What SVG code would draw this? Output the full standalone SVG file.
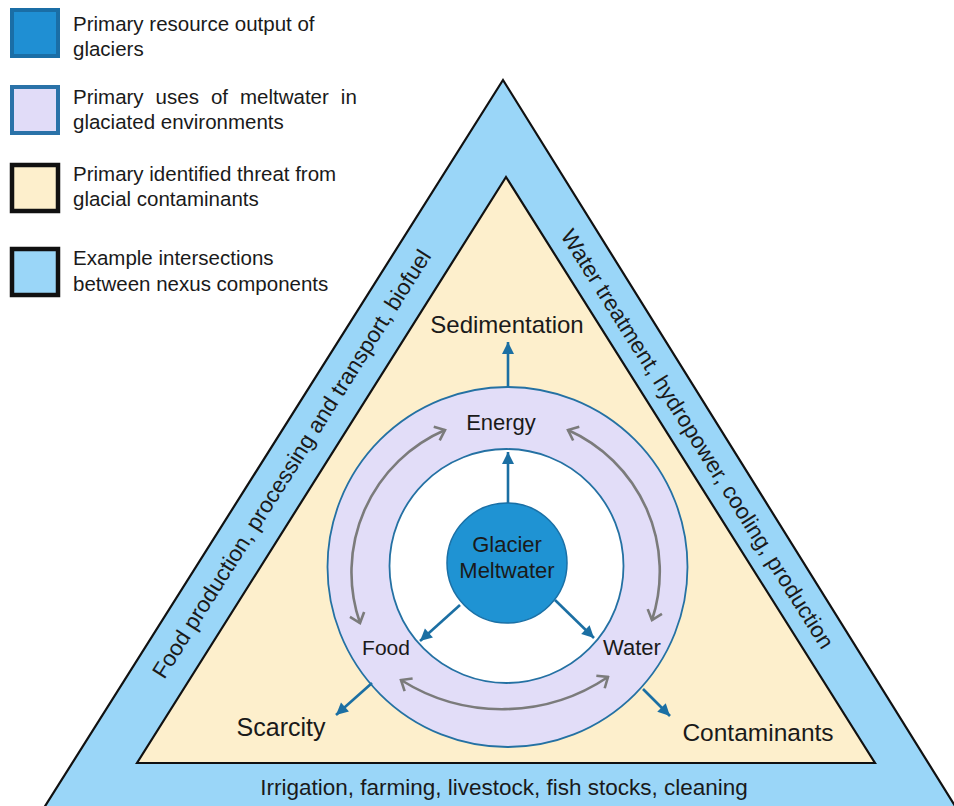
<svg xmlns="http://www.w3.org/2000/svg" width="954" height="806" viewBox="0 0 954 806">
<defs>
<style>
text{font-family:"Liberation Sans",Arial,sans-serif;fill:#1a1a1a}
.lg{font-size:20.5px}
.lb{font-size:22px;text-anchor:middle}
.band{font-size:22.5px;text-anchor:middle}
.blue{stroke:#1b6fa3;stroke-width:2.6;fill:none}
.gray{stroke:#7b7b7b;stroke-width:2.6;fill:none}
</style>
<marker id="bh" viewBox="-13 -7 14 14" refX="0" refY="0" markerWidth="14" markerHeight="14" markerUnits="userSpaceOnUse" orient="auto">
<path d="M-12,-6 L0,0 L-12,6 Z" fill="#1b6fa3"/>
</marker>
<marker id="gh" viewBox="-12 -9 14 18" refX="0" refY="0" markerWidth="14" markerHeight="18" markerUnits="userSpaceOnUse" orient="auto-start-reverse">
<path d="M-9,-7.5 L0,0 L-9,7.5" fill="none" stroke="#7b7b7b" stroke-width="2.6" stroke-linejoin="miter"/>
</marker>
</defs>
<rect width="954" height="806" fill="#ffffff"/>

<g id="legend">
<rect x="12" y="10" width="46" height="46" fill="#1f8fd3" stroke="#1a6ea6" stroke-width="4"/>
<text class="lg" x="73" y="31">Primary resource output of</text>
<text class="lg" x="73" y="56">glaciers</text>
<rect x="12" y="87" width="46" height="46" fill="#e1dcf8" stroke="#2a72a8" stroke-width="4"/>
<text class="lg" x="73" y="104" word-spacing="6.3">Primary uses of meltwater in</text>
<text class="lg" x="73" y="129">glaciated environments</text>
<rect x="12" y="165" width="46" height="46" fill="#fdefcc" stroke="#111111" stroke-width="4.5"/>
<text class="lg" x="73" y="181">Primary identified threat from</text>
<text class="lg" x="73" y="206">glacial contaminants</text>
<rect x="12" y="249" width="46" height="46" fill="#9ad6f8" stroke="#111111" stroke-width="4.5"/>
<text class="lg" x="73" y="265">Example intersections</text>
<text class="lg" x="73" y="291">between nexus components</text>
</g>

<g id="outer-triangle">
<polygon points="503,80 970,830 30,830" fill="#9ad6f8" stroke="#111111" stroke-width="2.2" stroke-linejoin="miter"/>
<text class="band" transform="translate(298,468) rotate(-57.75)">Food production, processing and transport, biofuel</text>
<text class="band" transform="translate(691,443) rotate(57.75)">Water treatment, hydropower, cooling, production</text>
<text class="band" x="504" y="795">Irrigation, farming, livestock, fish stocks, cleaning</text>
</g>

<g id="inner-triangle">
<polygon points="506,177 875,763 137,763" fill="#fdefcc" stroke="#111111" stroke-width="2.2" stroke-linejoin="miter"/>
</g>

<g id="threats">
<text class="lb" x="507" y="333" style="font-size:24px">Sedimentation</text>
<text class="lb" x="281" y="736" style="font-size:25px">Scarcity</text>
<text class="lb" x="758" y="741" style="font-size:24.5px">Contaminants</text>
</g>

<g id="uses-ring">
<circle cx="507.5" cy="567" r="180" fill="#e2ddf8" stroke="#2471a3" stroke-width="1.8"/>
<circle cx="506.5" cy="566" r="117" fill="#ffffff" stroke="#2471a3" stroke-width="1.8"/>
<text class="lb" x="501" y="430" style="font-size:22px">Energy</text>
<text class="lb" x="386" y="655" style="font-size:21px">Food</text>
<text class="lb" x="632" y="655" style="font-size:22px">Water</text>
</g>

<g id="glacier-meltwater">
<circle cx="507" cy="563" r="60" fill="#1f93d3" stroke="#1a70a6" stroke-width="1.5"/>
<text class="lb" x="507" y="552">Glacier</text>
<text class="lb" x="507" y="578">Meltwater</text>
</g>

<g id="connectors">
<line class="blue" x1="508" y1="503" x2="508" y2="452" marker-end="url(#bh)"/>
<line class="blue" x1="460" y1="605" x2="420" y2="641" marker-end="url(#bh)"/>
<line class="blue" x1="555" y1="600" x2="594" y2="638" marker-end="url(#bh)"/>
<line class="blue" x1="508" y1="387" x2="508" y2="342" marker-end="url(#bh)"/>
<line class="blue" x1="372" y1="683" x2="336" y2="715" marker-end="url(#bh)"/>
<line class="blue" x1="643" y1="689" x2="670" y2="716" marker-end="url(#bh)"/>
<path class="gray" d="M360,623 A155,155 0 0 1 445,430" marker-start="url(#gh)" marker-end="url(#gh)"/>
<path class="gray" d="M568,430 A155,155 0 0 1 652,620" marker-start="url(#gh)" marker-end="url(#gh)"/>
<path class="gray" d="M608,677 A190,190 0 0 1 401,680" marker-start="url(#gh)" marker-end="url(#gh)"/>
</g>
</svg>
